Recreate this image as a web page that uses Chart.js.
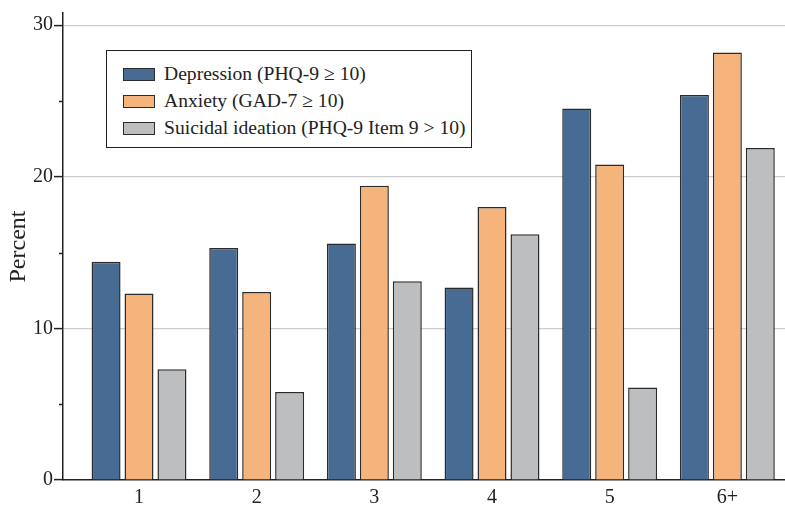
<!DOCTYPE html>
<html>
<head>
<meta charset="utf-8">
<script src="https://cdn.jsdelivr.net/npm/chart.js@4/dist/chart.umd.min.js"></script>
<style>
    html, body { margin: 0; padding: 0; background: #fff; }
    #wrap { position: relative; width: 785px; height: 505px; }
    #legend {
        position: absolute; left: 106px; top: 50px; width: 364px; height: 96px;
        border: 1.5px solid #222; background: #fff;
        font-family: "Liberation Serif", serif; font-size: 19.6px; color: #222;
    }
    .item { position: absolute; left: 16px; height: 20px; display: flex; align-items: center; white-space: nowrap; }
    .swatch { width: 30px; height: 11px; border: 1.5px solid #2b2b2b; margin-right: 9px; }
</style>
</head>
<body>
<div id="wrap">
    <canvas id="chart" width="785" height="505"></canvas>
    <div id="legend"></div>
</div>
<script>
const categories = ["1", "2", "3", "4", "5", "6+"];
const seriesNames = [
    "Depression (PHQ-9 \u2265 10)",
    "Anxiety (GAD-7 \u2265 10)",
    "Suicidal ideation (PHQ-9 Item 9 > 10)"
];
const depression = [14.4, 15.3, 15.6, 12.7, 24.5, 25.4];
const anxiety = [12.3, 12.4, 19.4, 18.0, 20.8, 28.2];
const suicidal = [7.3, 5.8, 13.1, 16.2, 6.1, 21.9];
const yTicks = [0, 10, 20, 30];
const yMinorTicks = [5, 15, 25];

const colors = ["#476b93", "#f4b47b", "#bdbec0"];
const serif = "Liberation Serif";

function toPoints(values) {
    return values.map((v, i) => ({ x: i, y: v }));
}

// short unlabelled ticks at 5, 15, 25
const minorTicks = {
    id: "minorTicks",
    afterDraw(chart) {
        const y = chart.scales.y;
        const ctx = chart.ctx;
        ctx.save();
        ctx.strokeStyle = "#222";
        ctx.lineWidth = 1.5;
        yMinorTicks.forEach(v => {
            const py = Math.round(y.getPixelForValue(v)) + 0.5;
            ctx.beginPath();
            ctx.moveTo(y.right - 4, py);
            ctx.lineTo(y.right, py);
            ctx.stroke();
        });
        ctx.restore();
    }
};

const allSeries = [depression, anxiety, suicidal];
const datasets = allSeries.map((values, i) => ({
    label: seriesNames[i],
    data: toPoints(values),
    backgroundColor: colors[i],
    borderColor: "#2b2b2b",
    borderWidth: 1.5,
    categoryPercentage: 0.84,
    barPercentage: 0.88
}));

const ctx = document.getElementById("chart").getContext("2d");
new Chart(ctx, {
    type: "bar",
    data: { datasets },
    plugins: [minorTicks],
    options: {
        responsive: false,
        animation: false,
        layout: { padding: { top: 13, right: 0, left: 0, bottom: 0 } },
        plugins: { legend: { display: false }, tooltip: { enabled: false } },
        scales: {
            x: {
                type: "linear",
                offset: false,
                min: -0.646,
                max: 5.49,
                afterFit: s => { s.height = 25; },
                grid: { color: "transparent", drawTicks: false, offset: false },
                border: { color: "#222", width: 1.5 },
                ticks: {
                    stepSize: 1,
                    includeBounds: false,
                    padding: 6,
                    color: "#222",
                    font: { family: serif, size: 20 },
                    callback: v => categories[v] ?? ""
                }
            },
            y: {
                min: 0,
                max: 30.8,
                afterFit: s => { s.width = 63; },
                grid: {
                    color: c => (c.tick && c.tick.value > 0 && yTicks.includes(c.tick.value)) ? "#cccccc" : "transparent",
                    tickColor: c => (c.tick && yTicks.includes(c.tick.value)) ? "#222" : "transparent",
                    tickLength: 9,
                    lineWidth: 1.2,
                    tickWidth: 1.5
                },
                border: { color: "#222", width: 1.5 },
                ticks: {
                    stepSize: 5,
                    includeBounds: false,
                    padding: 1,
                    color: "#222",
                    font: { family: serif, size: 20 },
                    callback: v => yTicks.includes(v) ? String(v) : ""
                },
                title: {
                    display: true,
                    text: "Percent",
                    color: "#222",
                    padding: { top: 4, bottom: 0 },
                    font: { family: serif, size: 24 }
                }
            }
        }
    }
});

// legend box drawn as HTML from the same series
const legend = document.getElementById("legend");
seriesNames.forEach((name, i) => {
    const item = document.createElement("div");
    item.className = "item";
    item.style.top = (13 + i * 27) + "px";
    item.innerHTML = `<span class="swatch" style="background:${colors[i]}"></span><span>${name.replace(">", "&gt;")}</span>`;
    legend.appendChild(item);
});
</script>
</body>
</html>
